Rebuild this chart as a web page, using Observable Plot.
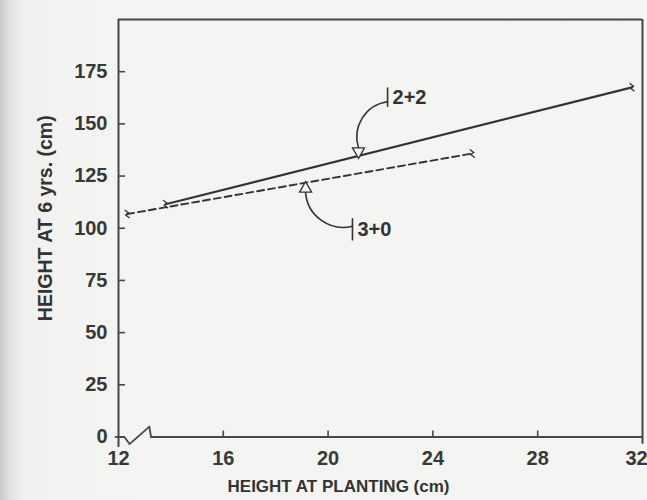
<!DOCTYPE html>
<html>
<head>
<meta charset="utf-8">
<script src="https://cdn.jsdelivr.net/npm/d3@7"></script>
<script src="https://cdn.jsdelivr.net/npm/@observablehq/plot@0.6"></script>
<style>
  html, body { margin: 0; padding: 0; }
  body {
    width: 647px; height: 500px; overflow: hidden;
    background: linear-gradient(to right, #c9c9c9 0px, #e2e2e2 10px, #efefef 22px, #f3f3f2 60px, #f4f4f3 100%);
  }
  #chart svg { display: block; }
</style>
</head>
<body>
<div id="chart"></div>
<script>
// ---- data ----
const xTicks = [12, 16, 20, 24, 28, 32];
const yTicks = [0, 25, 50, 75, 100, 125, 150, 175];
const xTitle = "HEIGHT AT PLANTING (cm)";
const yTitle = "HEIGHT AT 6 yrs. (cm)";

// regression line "2+2" (solid)
const solidX = [13.8, 31.6];
const solidY = [111.5, 167.5];
// regression line "3+0" (dashed)
const dashX = [12.33, 25.5];
const dashY = [106.8, 135.8];

// annotations
const annLabels = ["2+2", "3+0"];
const annTextX = [22.46, 21.12];
const annTextY = [162.6, 99.2];
const annBarY1 = [157.9, 93.9];
const annBarY2 = [167.2, 104.6];
const annBarX = [22.27, 20.93];
const annStartY = [160.6, 101.0];
const annEndX = [21.16, 19.14];
const annEndY = [138.6, 117.2];
const annHeadY = [136.8, 119.0];
const annBend = [-50, 50];
const annHeadRotate = [180, 0];

// axis break on the x axis (data units)
const breakX = [12, 12.23, 12.42, 13.18, 13.24];
const breakY = [0, 0, -3.4, 5.0, 0];

// ---- marks ----
const ink = "#333333";
const frameInk = "#474747";
const bg = "#f3f3f2";
const font = "'Liberation Sans', Arial, sans-serif";

const solid = solidX.map((x, i) => ({x, y: solidY[i]}));
const dashed = dashX.map((x, i) => ({x, y: dashY[i]}));
const ends = [...solid, ...dashed];
const ann = annLabels.map((t, i) => ({
  t, tx: annTextX[i], ty: annTextY[i], bx: annBarX[i], by1: annBarY1[i], by2: annBarY2[i],
  sy: annStartY[i], ex: annEndX[i], ey: annEndY[i], hy: annHeadY[i], bend: annBend[i], rot: annHeadRotate[i]
}));
const brk = breakX.map((x, i) => ({x, y: breakY[i]}));

const squiggle = {
  draw(ctx, size) {
    ctx.moveTo(-2.5, -4);
    ctx.lineTo(1.5, -1);
    ctx.lineTo(-1.5, 1);
    ctx.lineTo(2.5, 4);
  }
};

const xDom = [12, 32];
const yDom = [0, 200];
const pxPerX = (647 - 118 - 5) / (xDom[1] - xDom[0]);
const pxPerY = (500 - 19 - 63.5) / (yDom[1] - yDom[0]);
const yTickLen = 7 / pxPerX;   // inward tick lengths in data units
const xTickLen = 6 / pxPerY;

const tickFont = {fontSize: 20, fontWeight: "bold", fill: "#383838"};

const chart = Plot.plot({
  width: 647,
  height: 500,
  marginLeft: 118,
  marginRight: 5,
  marginTop: 19,
  marginBottom: 63.5,
  style: {background: "transparent", fontFamily: font, color: "#333"},
  x: {domain: xDom},
  y: {domain: yDom},
  marks: [
    // frame: left, right, top and bottom (with break)
    Plot.ruleX([xDom[0]], {y1: -5, y2: yDom[1], stroke: frameInk, strokeWidth: 2}),
    Plot.ruleX([xDom[1]], {y1: -3.5, y2: yDom[1], stroke: frameInk, strokeWidth: 2}),
    Plot.ruleY([yDom[1]], {x1: xDom[0], x2: xDom[1], stroke: frameInk, strokeWidth: 2}),
    Plot.line(brk, {x: "x", y: "y", stroke: frameInk, strokeWidth: 1.8}),
    Plot.ruleY([0], {x1: breakX[breakX.length - 1], x2: xDom[1], stroke: frameInk, strokeWidth: 2}),
    Plot.ruleY([0], {x1: xDom[0] - 0.12, x2: xDom[0], stroke: frameInk, strokeWidth: 1.8}),
    // inward ticks
    Plot.ruleY(yTicks.filter(d => d > 0), {x1: xDom[0], x2: xDom[0] + yTickLen, stroke: frameInk, strokeWidth: 1.6}),
    Plot.ruleX(xTicks.filter(d => d > xDom[0] && d < xDom[1]), {y1: 0, y2: xTickLen, stroke: frameInk, strokeWidth: 1.6}),
    // tick labels
    Plot.axisY({ticks: yTicks, tickSize: 0, tickPadding: 11, label: null, ...tickFont}),
    Plot.axisX({ticks: xTicks.slice(0, -1), tickSize: 0, tickPadding: 13.5, label: null, ...tickFont}),
    Plot.axisX({ticks: xTicks.slice(-1), tickSize: 0, tickPadding: 13.5, dx: -6, label: null, ...tickFont}),
    // axis titles
    Plot.text([yTitle], {frameAnchor: "left", textAnchor: "middle", lineAnchor: "middle", dx: -73, dy: -10, rotate: -90,
      text: d => d, fontSize: 19.5, fontWeight: "bold", fill: "#333", style: "letter-spacing: 2.6px"}),
    Plot.text([xTitle], {frameAnchor: "bottom", textAnchor: "middle", dx: -42, dy: 55, text: d => d, fontSize: 17, fontWeight: "bold", fill: "#333"}),
    // data lines
    Plot.line(solid, {x: "x", y: "y", stroke: ink, strokeWidth: 2.2}),
    Plot.line(dashed, {x: "x", y: "y", stroke: ink, strokeWidth: 1.9, strokeDasharray: "7,4"}),
    Plot.dot(ends, {x: "x", y: "y", symbol: squiggle, r: 4, stroke: ink, strokeWidth: 1.3, fill: "none"}),
    // annotations
    Plot.ruleX(ann, {x: "bx", y1: "by1", y2: "by2", stroke: ink, strokeWidth: 1.6}),
    Plot.text(ann, {x: "tx", y: "ty", text: "t", textAnchor: "start", fontSize: 20, fontWeight: "bold", fill: "#333"}),
    ...ann.map(a => Plot.arrow([a], {x1: "bx", y1: "sy", x2: "ex", y2: "ey", bend: a.bend, headLength: 0, stroke: ink, strokeWidth: 1.6})),
    Plot.dot(ann, {x: "ex", y: "hy", symbol: "triangle", r: 4.5, rotate: "rot", stroke: ink, strokeWidth: 1.3, fill: bg})
  ]
});
document.getElementById("chart").appendChild(chart);
</script>
</body>
</html>
